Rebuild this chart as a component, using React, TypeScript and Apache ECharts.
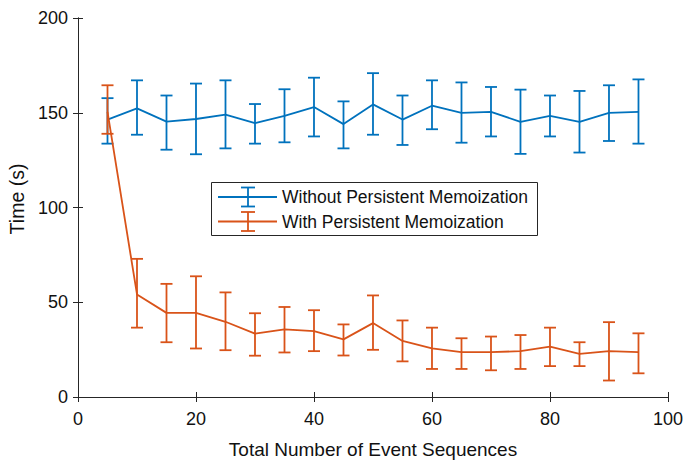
import React, { useEffect, useRef } from "react";
import * as echarts from "echarts";

const xs = [5, 10, 15, 20, 25, 30, 35, 40, 45, 50, 55, 60, 65, 70, 75, 80, 85, 90, 95];

const withoutMean = [146.4, 152.3, 145.3, 146.7, 149, 144.5, 148.3, 153, 144, 154.4, 146.4, 153.7, 149.9, 150.5, 145.2, 148.3, 145.2, 149.9, 150.5];
const withoutUpper = [157.7, 167.1, 159.1, 165.4, 167.1, 154.6, 162.4, 168.5, 156, 170.9, 159.1, 167.1, 166, 163.6, 162.2, 159.1, 161.5, 164.5, 167.6];
const withoutLower = [133.7, 138.4, 130.5, 128.1, 131.2, 133.7, 134.4, 137.5, 131.2, 138.4, 133, 141.3, 134.2, 137.5, 128.3, 137.5, 129, 135.1, 133.7];

const withMean = [150.5, 54.1, 44.4, 44.4, 39.7, 33.4, 35.7, 34.8, 30.4, 39, 29.6, 25.7, 23.7, 23.7, 24.2, 26.6, 22.8, 24.2, 23.7];
const withUpper = [164.5, 72.9, 59.7, 63.7, 55.2, 44.2, 47.5, 45.8, 38.3, 53.6, 40.4, 36.6, 31, 31.9, 32.7, 36.6, 28.9, 39.5, 33.6];
const withLower = [138.9, 36.6, 28.9, 25.6, 24.7, 21.8, 23.5, 24.2, 21.9, 24.9, 18.8, 14.8, 14.8, 14.1, 14.8, 16.3, 16.3, 8.7, 12.5];

const seriesNames = ["Without Persistent Memoization", "With Persistent Memoization"];
const xTitle = "Total Number of Event Sequences";
const yTitle = "Time (s)";

const BLUE = "#0072BD";
const ORANGE = "#D95319";
const AX = "#262626";
const FONT = "'Liberation Sans', Arial, Helvetica, sans-serif";
const LW = 1.8;

function errorBarRender(color: string) {
  return (params: any, api: any) => {
    const x = api.value(0);
    const lo = api.value(1);
    const hi = api.value(2);
    const pHi = api.coord([x, hi]);
    const pLo = api.coord([x, lo]);
    const hw = 6;
    const style = { stroke: color, lineWidth: LW, fill: "none" };
    return {
      type: "group",
      children: [
        { type: "line", shape: { x1: pHi[0], y1: pHi[1], x2: pLo[0], y2: pLo[1] }, style },
        { type: "line", shape: { x1: pHi[0] - hw, y1: pHi[1], x2: pHi[0] + hw, y2: pHi[1] }, style },
        { type: "line", shape: { x1: pLo[0] - hw, y1: pLo[1], x2: pLo[0] + hw, y2: pLo[1] }, style },
      ],
    };
  };
}

function legendItem(color: string, cy: number, text: string) {
  const st = { stroke: color, lineWidth: LW, fill: "none" };
  return [
    { type: "line", z: 101, shape: { x1: 218, y1: cy, x2: 277, y2: cy }, style: st },
    { type: "line", z: 101, shape: { x1: 248, y1: cy - 9.5, x2: 248, y2: cy + 9.5 }, style: st },
    { type: "line", z: 101, shape: { x1: 241, y1: cy - 9.5, x2: 255, y2: cy - 9.5 }, style: st },
    { type: "line", z: 101, shape: { x1: 241, y1: cy + 9.5, x2: 255, y2: cy + 9.5 }, style: st },
    {
      type: "text",
      z: 101,
      x: 282,
      y: cy,
      style: { text, fill: "#111", font: `17.5px ${FONT}`, textVerticalAlign: "middle", textAlign: "left" },
    },
  ];
}

export default function App() {
  const ref = useRef<HTMLDivElement>(null);
  useEffect(() => {
    if (!ref.current) return;
    const chart = echarts.init(ref.current, undefined, { renderer: "svg" });
    const axisCommon = {
      axisLine: { show: true, lineStyle: { color: AX, width: 1 } },
      axisTick: { show: true, inside: true, length: 5, lineStyle: { color: AX } },
      splitLine: { show: false },
    };
    chart.setOption({
      animation: false,
      backgroundColor: "#ffffff",
      grid: { left: 78, right: 17, top: 18, bottom: 63, containLabel: false },
      xAxis: [
        {
          type: "value",
          min: 0,
          max: 100,
          interval: 20,
          position: "bottom",
          ...axisCommon,
          axisLabel: { fontSize: 18, color: "#111", fontFamily: FONT, margin: 13 },
          name: xTitle,
          nameLocation: "middle",
          nameGap: 43,
          nameTextStyle: { fontSize: 19, color: "#111", fontFamily: FONT },
        },
        {
          type: "value",
          min: 0,
          max: 100,
          interval: 20,
          position: "top",
          ...axisCommon,
          axisLabel: { show: false },
        },
      ],
      yAxis: [
        {
          type: "value",
          min: 0,
          max: 200,
          interval: 50,
          position: "left",
          ...axisCommon,
          axisLabel: { fontSize: 18, color: "#111", fontFamily: FONT, margin: 10, padding: [6, 0, 0, 0] },
        },
        {
          type: "value",
          min: 0,
          max: 200,
          interval: 50,
          position: "right",
          ...axisCommon,
          axisLabel: { show: false },
        },
      ],
      graphic: [
        {
          type: "text",
          x: 17,
          y: 199,
          rotation: Math.PI / 2,
          style: { text: yTitle, fill: "#111", font: `19.5px ${FONT}`, textAlign: "center", textVerticalAlign: "middle" },
        },
        {
          type: "rect",
          z: 100,
          shape: { x: 211.5, y: 182.5, width: 326, height: 53 },
          style: { fill: "#fff", stroke: AX, lineWidth: 1 },
        },
        ...legendItem(BLUE, 197, seriesNames[0]),
        ...legendItem(ORANGE, 221.5, seriesNames[1]),
      ],
      series: [
        {
          name: seriesNames[0],
          type: "line",
          data: xs.map((x, i) => [x, withoutMean[i]]),
          showSymbol: false,
          lineStyle: { color: BLUE, width: LW },
          z: 2,
        },
        {
          name: seriesNames[0] + " error",
          type: "custom",
          data: xs.map((x, i) => [x, withoutLower[i], withoutUpper[i]]),
          encode: { x: 0, y: [1, 2] },
          renderItem: errorBarRender(BLUE),
          z: 2,
        },
        {
          name: seriesNames[1],
          type: "line",
          data: xs.map((x, i) => [x, withMean[i]]),
          showSymbol: false,
          lineStyle: { color: ORANGE, width: LW },
          z: 3,
        },
        {
          name: seriesNames[1] + " error",
          type: "custom",
          data: xs.map((x, i) => [x, withLower[i], withUpper[i]]),
          encode: { x: 0, y: [1, 2] },
          renderItem: errorBarRender(ORANGE),
          z: 3,
        },
      ],
    });
    return () => chart.dispose();
  }, []);
  return (
    <div
      ref={ref}
      style={{ position: "fixed", left: 0, top: 0, width: 686, height: 464, background: "#fff" }}
    />
  );
}
